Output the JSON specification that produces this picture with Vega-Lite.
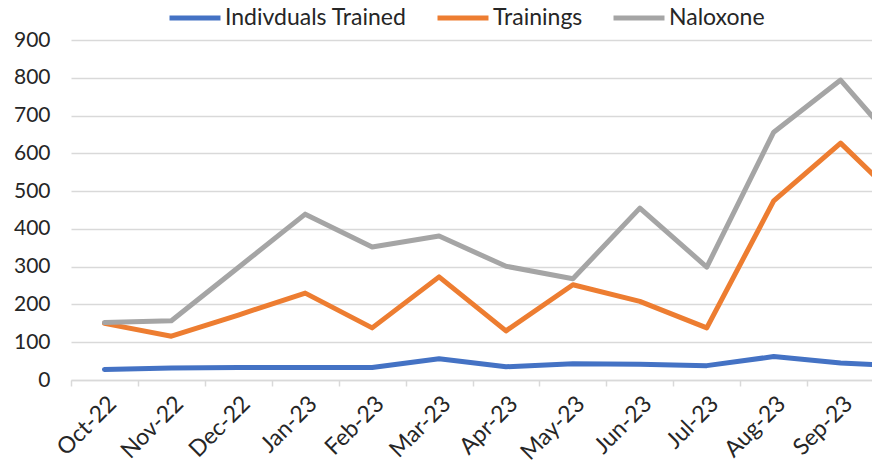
{
  "$schema": "https://vega.github.io/schema/vega-lite/v6.json",
  "width": 870,
  "height": 340,
  "autosize": {"type": "none"},
  "padding": {"left": 71, "top": 40, "right": 0, "bottom": 86},
  "background": "white",
  "config": {
    "view": {"stroke": null},
    "font": "Lato",
    "axis": {"labelFont": "Lato", "labelColor": "#262626", "labelFontSize": 21}
  },
  "data": {
    "values": [
      {"month": "Oct-22", "series": "Indivduals Trained", "value": 28},
      {"month": "Nov-22", "series": "Indivduals Trained", "value": 32},
      {"month": "Dec-22", "series": "Indivduals Trained", "value": 33},
      {"month": "Jan-23", "series": "Indivduals Trained", "value": 33},
      {"month": "Feb-23", "series": "Indivduals Trained", "value": 33},
      {"month": "Mar-23", "series": "Indivduals Trained", "value": 56},
      {"month": "Apr-23", "series": "Indivduals Trained", "value": 35},
      {"month": "May-23", "series": "Indivduals Trained", "value": 43},
      {"month": "Jun-23", "series": "Indivduals Trained", "value": 42},
      {"month": "Jul-23", "series": "Indivduals Trained", "value": 38},
      {"month": "Aug-23", "series": "Indivduals Trained", "value": 62},
      {"month": "Sep-23", "series": "Indivduals Trained", "value": 45},
      {"month": "Oct-23", "series": "Indivduals Trained", "value": 36},
      {"month": "Oct-22", "series": "Trainings", "value": 150},
      {"month": "Nov-22", "series": "Trainings", "value": 116},
      {"month": "Dec-22", "series": "Trainings", "value": 172},
      {"month": "Jan-23", "series": "Trainings", "value": 230},
      {"month": "Feb-23", "series": "Trainings", "value": 138},
      {"month": "Mar-23", "series": "Trainings", "value": 273},
      {"month": "Apr-23", "series": "Trainings", "value": 130},
      {"month": "May-23", "series": "Trainings", "value": 252},
      {"month": "Jun-23", "series": "Trainings", "value": 208},
      {"month": "Jul-23", "series": "Trainings", "value": 138},
      {"month": "Aug-23", "series": "Trainings", "value": 474},
      {"month": "Sep-23", "series": "Trainings", "value": 627},
      {"month": "Oct-23", "series": "Trainings", "value": 455},
      {"month": "Oct-22", "series": "Naloxone", "value": 152},
      {"month": "Nov-22", "series": "Naloxone", "value": 157},
      {"month": "Dec-22", "series": "Naloxone", "value": 298},
      {"month": "Jan-23", "series": "Naloxone", "value": 439},
      {"month": "Feb-23", "series": "Naloxone", "value": 352},
      {"month": "Mar-23", "series": "Naloxone", "value": 381},
      {"month": "Apr-23", "series": "Naloxone", "value": 301},
      {"month": "May-23", "series": "Naloxone", "value": 268},
      {"month": "Jun-23", "series": "Naloxone", "value": 455},
      {"month": "Jul-23", "series": "Naloxone", "value": 299},
      {"month": "Aug-23", "series": "Naloxone", "value": 656},
      {"month": "Sep-23", "series": "Naloxone", "value": 794},
      {"month": "Oct-23", "series": "Naloxone", "value": 590}
    ]
  },
  "mark": {"type": "line", "strokeWidth": 5, "strokeJoin": "round", "strokeCap": "round"},
  "encoding": {
    "x": {
      "field": "month",
      "type": "ordinal",
      "sort": ["Oct-22","Nov-22","Dec-22","Jan-23","Feb-23","Mar-23","Apr-23","May-23","Jun-23","Jul-23","Aug-23","Sep-23","Oct-23"],
      "scale": {"type": "point", "padding": 0.5},
      "axis": {
        "title": null,
        "values": ["Oct-22","Nov-22","Dec-22","Jan-23","Feb-23","Mar-23","Apr-23","May-23","Jun-23","Jul-23","Aug-23","Sep-23"],
        "labelAngle": -45,
        "labelFontSize": 23,
        "tickOffset": -33.5,
        "labelOffset": 33.5,
        "tickSize": 6,
        "tickColor": "#d9d9d9",
        "tickWidth": 1.5,
        "domainColor": "#d9d9d9",
        "domainWidth": 1.5,
        "labelPadding": 6,
        "grid": false
      }
    },
    "y": {
      "field": "value",
      "type": "quantitative",
      "scale": {"domain": [0, 900], "nice": false},
      "axis": {
        "title": null,
        "values": [0,100,200,300,400,500,600,700,800,900],
        "domain": false,
        "ticks": false,
        "labelPadding": 21,
        "gridColor": "#d9d9d9",
        "gridWidth": 1.5
      }
    },
    "color": {
      "field": "series",
      "type": "nominal",
      "sort": ["Indivduals Trained", "Trainings", "Naloxone"],
      "scale": {"domain": ["Indivduals Trained", "Trainings", "Naloxone"], "range": ["#4472C4", "#ED7D31", "#A5A5A5"]},
      "legend": {
        "title": null,
        "orient": "none",
        "direction": "horizontal",
        "legendX": 96,
        "legendY": -50,
        "symbolType": "stroke",
        "symbolSize": 2600,
        "symbolStrokeWidth": 5,
        "labelFont": "Lato",
        "labelFontSize": 23,
        "labelLimit": 400,
        "labelColor": "#262626",
        "labelOffset": 2,
        "columnPadding": 20
      }
    }
  }
}
